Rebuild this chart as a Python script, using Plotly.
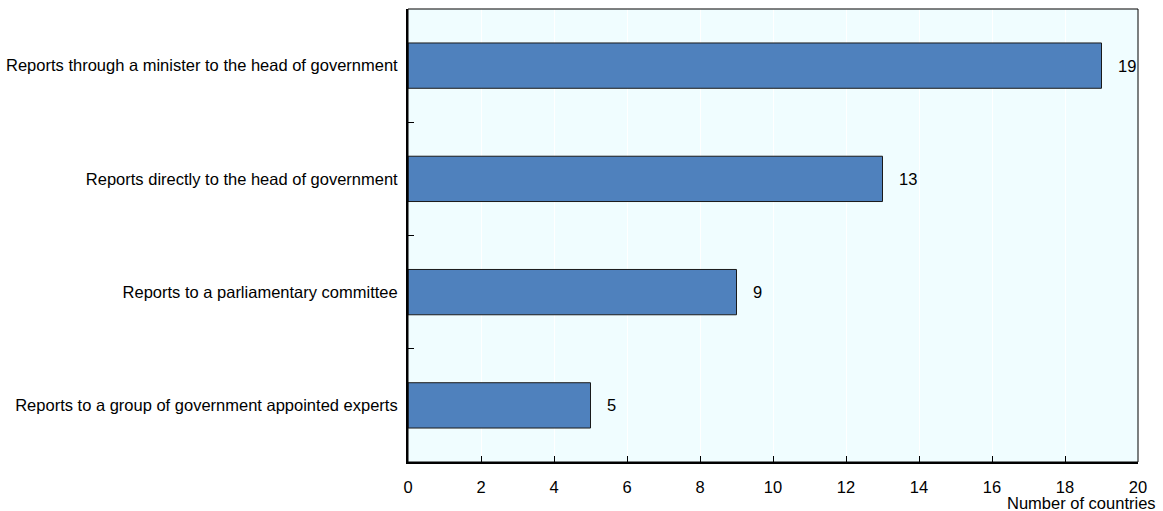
import plotly.graph_objects as go

categories = [
    "Reports through a minister to the head of government",
    "Reports directly to the head of government",
    "Reports to a parliamentary committee",
    "Reports to a group of government appointed experts",
]
counts = [19, 13, 9, 5]
x_ticks = list(range(0, 21, 2))

font_family = "Liberation Sans, Arial, sans-serif"
font_size = 16.5

fig = go.Figure(
    go.Bar(
        x=counts,
        y=categories,
        orientation="h",
        width=0.4,
        marker=dict(color="#4f81bd", line=dict(color="#1a1a1a", width=1)),
        hoverinfo="x+y",
    )
)

# value labels just right of each bar end
value_labels = [
    dict(text=str(v), x=v, y=c, xref="x", yref="y", xanchor="left", yanchor="middle",
         xshift=14, showarrow=False, font=dict(size=font_size, color="#000000"))
    for c, v in zip(categories, counts)
]

fig.update_layout(
    width=1163,
    height=511,
    margin=dict(l=408, r=25, t=9, b=49),
    paper_bgcolor="white",
    plot_bgcolor="#f0fdff",
    showlegend=False,
    font=dict(family=font_family, size=font_size, color="#000000"),
    xaxis=dict(
        range=[0, 20],
        tickvals=x_ticks,
        ticktext=[str(t) for t in x_ticks],
        ticks="inside",
        ticklen=6,
        tickcolor="#000000",
        showgrid=True,
        gridcolor="white",
        gridwidth=1,
        showline=True,
        linecolor="#000000",
        linewidth=2,
        zeroline=False,
        tickfont=dict(size=font_size),
        ticklabelstandoff=9,
        automargin=False,
    ),
    yaxis=dict(
        categoryorder="array",
        categoryarray=categories[::-1],
        ticks="inside",
        tickson="boundaries",
        ticklen=6,
        tickcolor="#000000",
        showgrid=False,
        showline=True,
        linecolor="#000000",
        linewidth=2,
        tickfont=dict(size=font_size),
        ticklabelstandoff=5,
        automargin=False,
    ),
    shapes=[
        dict(type="rect", xref="paper", yref="paper", x0=0, x1=1, y0=0, y1=1,
             line=dict(color="#000000", width=1), fillcolor="rgba(0,0,0,0)", layer="above"),
    ],
    annotations=value_labels + [
        dict(text="Number of countries", xref="paper", yref="paper", x=1, y=0,
             xanchor="right", yanchor="top", xshift=20, yshift=-30, showarrow=False,
             font=dict(size=font_size)),
    ],
)

fig.write_html("out.html")
